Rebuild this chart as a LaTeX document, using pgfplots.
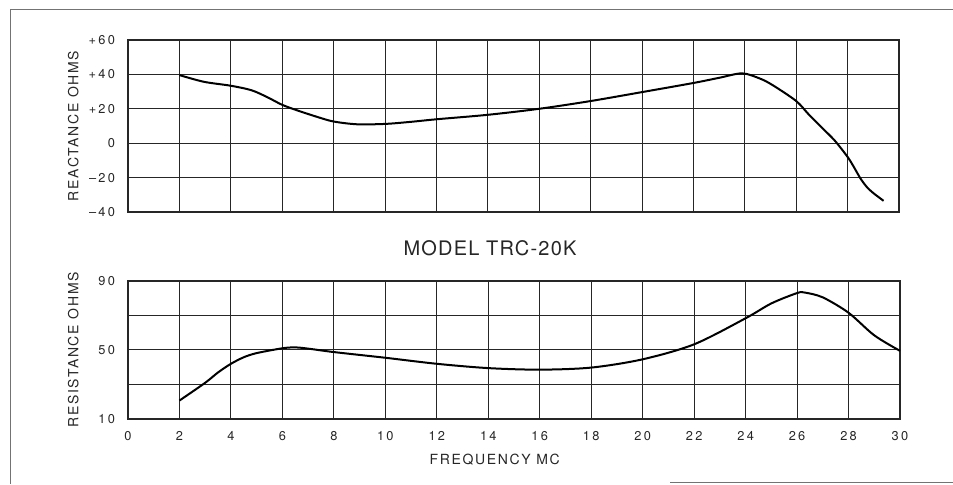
\documentclass[border=0pt]{standalone}
\usepackage{fontspec}
\setmainfont{TeX Gyre Heros}
\newfontfamily\spaced[LetterSpace=12]{TeX Gyre Heros}
\newfontfamily\ticks[LetterSpace=18]{TeX Gyre Heros}
\newfontfamily\model[LetterSpace=6]{TeX Gyre Heros}
\usepackage{pgfplots}
\pgfplotsset{compat=1.18}

\pgfplotsset{
  chart/.style={
    scale only axis, anchor=south west,
    xmin=0, xmax=30, xtick={0,2,...,30},
    grid=major,
    major grid style={black!85, line width=0.5pt},
    axis line style={black!85, line width=0.6pt},
    major tick length=0pt,
    tick label style={font=\ticks\fontsize{6.4}{7}\selectfont, text=black!85},
    yticklabel style={xshift=-3pt},
    xticklabel style={yshift=-2.5pt},
    label style={font=\spaced\fontsize{7}{8}\selectfont, text=black!85},
    ylabel style={at={(axis description cs:-0.071,0.5)}, anchor=center},
    clip=false,
  },
  curve/.style={black, line width=1pt, smooth},
}

\begin{document}
\begin{tikzpicture}
\useasboundingbox (0pt,0pt) rectangle (476.5pt,242.5pt);
% scanned page frame
\draw[black!55, line width=0.5pt] (5pt,0.5pt) -- (5pt,237.5pt) -- (476.5pt,237.5pt);
\draw[black!55, line width=0.5pt] (335pt,1pt) -- (476.5pt,1pt);

% reactance
\begin{axis}[chart,
  at={(64pt,136.5pt)}, width=385.5pt, height=86pt,
  ymin=-40, ymax=60, ytick={-40,-20,...,60},
  yticklabels={–\,40,–\,20,0,+\,20,+40,+60},
  xticklabels={},
  ylabel={REACTANCE OHMS},
]
\addplot[curve] coordinates {
  (2,39.6) (2.95,35.7) (4,33.4) (4.8,30.8) (5.4,26.9) (6,22.3) (6.6,19)
  (7.4,15.1) (8,12.6) (8.9,11) (10,11.2) (11,12.4) (12,13.9) (14,16.5)
  (16,20) (18,24.5) (20,29.7) (22,35) (23,38) (23.9,40.6) (24.6,37.5)
  (25.1,33.6) (26,24.5) (26.5,16.5) (27,9) (27.5,1.5) (28,-8)
  (28.25,-14) (28.5,-20.5) (28.75,-25.5) (29,-29) (29.4,-33.5)
};
\end{axis}

\node[font=\model\fontsize{10}{12}\selectfont, text=black!85] at (245pt,118.5pt) {MODEL TRC-20K};

% resistance
\begin{axis}[chart,
  at={(64pt,33pt)}, width=386pt, height=69pt,
  ymin=10, ymax=90, ytick={10,30,50,70,90},
  yticklabels={10,,50,,90},
  xticklabels={0,2,4,6,8,10,12,14,16,18,20,22,24,26,28,30},
  ylabel={RESISTANCE OHMS},
  xlabel={FREQUENCY MC},
  xlabel style={at={(axis description cs:0.475,-0.297)}, anchor=center},
]
\addplot[curve] coordinates {
  (2,20.7) (3,31) (3.5,37) (4,42) (4.5,45.8) (5,48.2) (6,51) (6.5,51.5)
  (7,50.8) (8,48.8) (10,45.5) (12,42) (14,39.5) (16,38.6) (18,39.8)
  (20,44.6) (22,53.3) (24,68.4) (25,77) (26,83) (26.3,83.3) (27,80.5)
  (28,71.6) (29,58.5) (30,49.5)
};
\end{axis}
\end{tikzpicture}
\end{document}
